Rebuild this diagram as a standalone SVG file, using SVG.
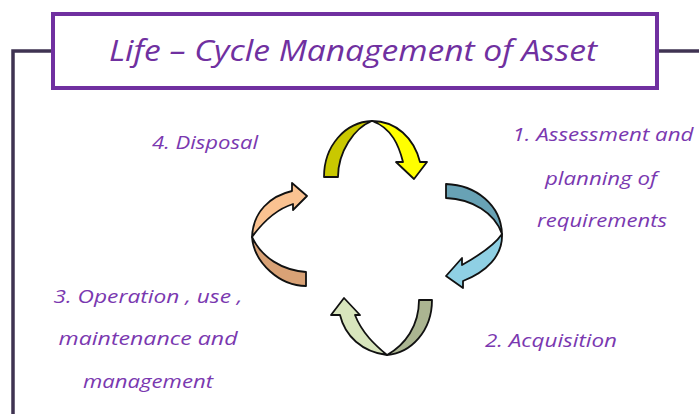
<svg xmlns="http://www.w3.org/2000/svg" width="699" height="414" viewBox="0 0 699 414">
  <style>
    .frame { fill: none; stroke: #3f3352; stroke-width: 3.5; }
    .titlebox { fill: #ffffff; stroke: #7030a0; stroke-width: 4; }
    .title { font-family: "Open Sans", "Noto Sans", sans-serif; font-style: italic; font-size: 29px; fill: #7030a0; }
    .label { font-family: "Open Sans", "Noto Sans", sans-serif; font-style: italic; font-size: 18px; fill: #7a38b0; }
    .arrow path { stroke: #111111; stroke-width: 1.8; stroke-linejoin: round; }
  </style>

  <rect width="699" height="414" fill="#ffffff"/>

  <!-- outer bracket lines -->
  <g id="frame">
    <polyline class="frame" points="13,414 13,51 54,51"/>
    <line class="frame" x1="656" y1="51" x2="699" y2="51"/>
  </g>

  <!-- title -->
  <g id="title">
    <rect class="titlebox" x="53" y="14" width="604" height="74"/>
    <text class="title" x="353" y="61" text-anchor="middle" textLength="488" lengthAdjust="spacingAndGlyphs">Life – Cycle Management of Asset</text>
  </g>

  <!-- cycle arrows: each is a twisted ribbon, back face darker, front face lighter -->
  <g id="connectors">
    <g id="arrow-top" class="arrow">
      <path fill="#c9c800" d="M324,177 C324,146 345,122 372,121 C354,128 338,152 338,177 Z"/>
      <path fill="#ffff00" d="M372,121 C396,121 414,138 420,162 L427,162 L414,179 L396,162 L403,162 C399,146 392,128 372,121 Z"/>
    </g>
    <g id="arrow-right" class="arrow">
      <path fill="#68a2b5" d="M446,184 C476,185 501,205 502,234 C495,213 472,199 446,198 Z"/>
      <path fill="#8fd0e4" d="M502,234 C503,256 486,272 463,281 L463,288 L446,276 L462,258 L462,265 C478,256 494,246 502,234 Z"/>
    </g>
    <g id="arrow-bottom" class="arrow">
      <path fill="#abb591" d="M419,300 L432,300 C432,331 411,353 387,355 C405,345 419,326 419,300 Z"/>
      <path fill="#d8e5bd" d="M387,355 C362,352 345,336 340,315 L331,315 L344,298 L360,315 L355,315 C362,333 375,345 387,355 Z"/>
    </g>
    <g id="arrow-left" class="arrow">
      <path fill="#d9a276" d="M252,237 C254,263 280,286 306,286 L306,272 C282,270 262,258 252,237 Z"/>
      <path fill="#fac291" d="M252,237 C253,212 270,196 292,191 L292,183 L307,196 L293,210 L293,204 C274,210 260,226 252,237 Z"/>
    </g>
  </g>

  <!-- stage labels -->
  <g id="stage-1">
    <text class="label" x="603" y="141" text-anchor="middle" textLength="181" lengthAdjust="spacingAndGlyphs">1. Assessment and</text>
    <text class="label" x="601" y="185" text-anchor="middle" textLength="112" lengthAdjust="spacingAndGlyphs">planning of</text>
    <text class="label" x="602" y="227" text-anchor="middle" textLength="130" lengthAdjust="spacingAndGlyphs">requirements</text>
  </g>
  <g id="stage-2">
    <text class="label" x="551" y="347" text-anchor="middle" textLength="132" lengthAdjust="spacingAndGlyphs">2. Acquisition</text>
  </g>
  <g id="stage-3">
    <text class="label" x="148" y="303" text-anchor="middle" textLength="189" lengthAdjust="spacingAndGlyphs">3. Operation , use ,</text>
    <text class="label" x="148" y="345" text-anchor="middle" textLength="179" lengthAdjust="spacingAndGlyphs">maintenance and</text>
    <text class="label" x="148" y="388" text-anchor="middle" textLength="130" lengthAdjust="spacingAndGlyphs">management</text>
  </g>
  <g id="stage-4">
    <text class="label" x="205" y="149" text-anchor="middle" textLength="106" lengthAdjust="spacingAndGlyphs">4. Disposal</text>
  </g>
</svg>
